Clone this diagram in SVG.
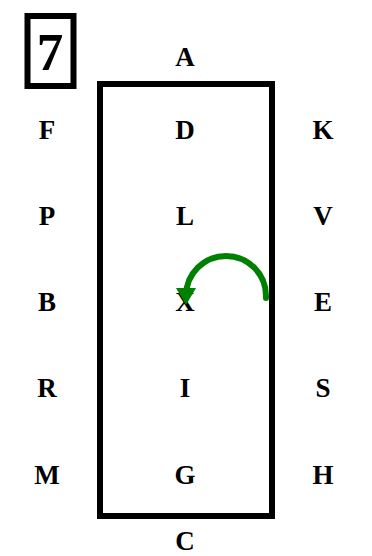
<svg xmlns="http://www.w3.org/2000/svg" width="372" height="556" viewBox="0 0 372 556">
<style>
.t{font-family:"Liberation Serif","Times New Roman",serif;font-weight:bold;font-size:27px;fill:#000;text-anchor:middle}
.box{fill:none;stroke:#000;stroke-width:6}
</style>
<rect width="372" height="556" fill="#fff"/>
<g id="label7">
<rect class="box" x="27.5" y="16" width="46" height="70"/>
<text x="50" y="70" class="t" style="font-size:53px">7</text>
</g>
<g id="frame"><rect class="box" x="100" y="84" width="172" height="432"/></g>
<g id="nA"><text class="t" x="185" y="66">A</text></g>
<g id="nF"><text class="t" x="47" y="139">F</text></g>
<g id="nD"><text class="t" x="185" y="139">D</text></g>
<g id="nK"><text class="t" x="323" y="139">K</text></g>
<g id="nP"><text class="t" x="47" y="225">P</text></g>
<g id="nL"><text class="t" x="185" y="225">L</text></g>
<g id="nV"><text class="t" x="323" y="225">V</text></g>
<g id="nB"><text class="t" x="47" y="311">B</text></g>
<g id="nX"><text class="t" x="185" y="311">X</text></g>
<g id="nE"><text class="t" x="323" y="311">E</text></g>
<g id="nR"><text class="t" x="47" y="397">R</text></g>
<g id="nI"><text class="t" x="185" y="397">I</text></g>
<g id="nS"><text class="t" x="323" y="397">S</text></g>
<g id="nM"><text class="t" x="47" y="484">M</text></g>
<g id="nG"><text class="t" x="185" y="484">G</text></g>
<g id="nH"><text class="t" x="323" y="484">H</text></g>
<g id="nC"><text class="t" x="185" y="550">C</text></g>
<g id="connectors">
<path d="M266 298 L266 296 A40 40 0 0 0 186 296 L186 290" fill="none" stroke="#008000" stroke-width="6" stroke-linecap="round"/>
<polygon points="176,288 196,288 186,305" fill="#008000"/>
</g>
</svg>
